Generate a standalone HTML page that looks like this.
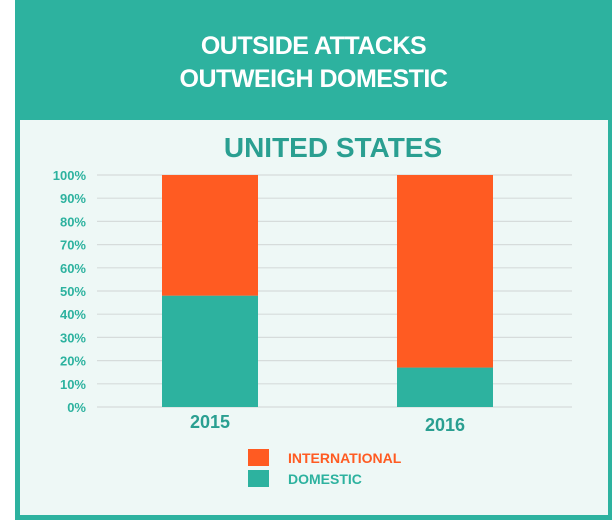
<!DOCTYPE html>
<html><head><meta charset="utf-8"><style>
body{margin:0;width:614px;height:529px;background:#fff;position:relative;overflow:hidden;font-family:"Liberation Sans",sans-serif}
#banner{position:absolute;left:15px;top:0;width:597px;height:520px;background:#2db29f}
#bt{position:absolute;left:15px;top:30px;width:597px;text-align:center;color:#fff;font-weight:bold;font-size:25px;line-height:33px;letter-spacing:-0.5px}
#panel{position:absolute;left:20px;top:120px;width:588px;height:395px;background:#eef8f6}
svg{position:absolute;left:0;top:0}
</style></head><body>
<div id="banner"></div>
<div id="bt">OUTSIDE ATTACKS<br>OUTWEIGH DOMESTIC</div>
<div id="panel"></div>
<svg id="c" width="614" height="529">
<text x="333" y="157" text-anchor="middle" font-size="28" font-weight="bold" fill="#2a9f91" font-family="Liberation Sans, sans-serif">UNITED STATES</text>
</svg>
<script>
const categories=["2015","2016"];
const domestic=[48,17];
const international=[52,83];
const ticks=[0,10,20,30,40,50,60,70,80,90,100];
const svg=document.getElementById('c');const NS='http://www.w3.org/2000/svg';
const y=v=>407-v*2.32;const xc=i=>210+i*235;
function mk(t,a){const e=document.createElementNS(NS,t);for(const k in a)e.setAttribute(k,a[k]);svg.appendChild(e);return e;}
ticks.forEach(t=>{
 const l=mk('line',{x1:97,x2:572,y1:y(t),y2:y(t),stroke:'#d6dcdb','stroke-width':1.2});
 
 
 const tx=mk('text',{x:86,y:y(t)+5,'text-anchor':'end','font-size':13,'font-weight':'bold',fill:'#2db29f'});
 tx.textContent=t+'%';
 
 
});
categories.forEach((c,i)=>{
 const d=mk('rect',{x:xc(i)-48,width:96,y:y(domestic[i]),height:y(0)-y(domestic[i]),fill:'#2db29f'});
 
 
 const n=mk('rect',{x:xc(i)-48,width:96,y:y(domestic[i]+international[i]),height:y(domestic[i])-y(domestic[i]+international[i]),fill:'#ff5b22'});
 
 
 const t=mk('text',{x:xc(i),y:428+i*3,'text-anchor':'middle','font-size':18,'font-weight':'bold',fill:'#2a9f91'});
 t.textContent=c;
 
 
});
[['INTERNATIONAL','#ff5b22',449],['DOMESTIC','#2db29f',470]].forEach(([l,c,yy])=>{
 const r=mk('rect',{x:248,y:yy,width:21,height:17,fill:c});
 
 
 const t=mk('text',{x:288,y:yy+14,'font-size':14,'font-weight':'bold',fill:c});
 t.textContent=l;
 
 
});
</script>
</body></html>
